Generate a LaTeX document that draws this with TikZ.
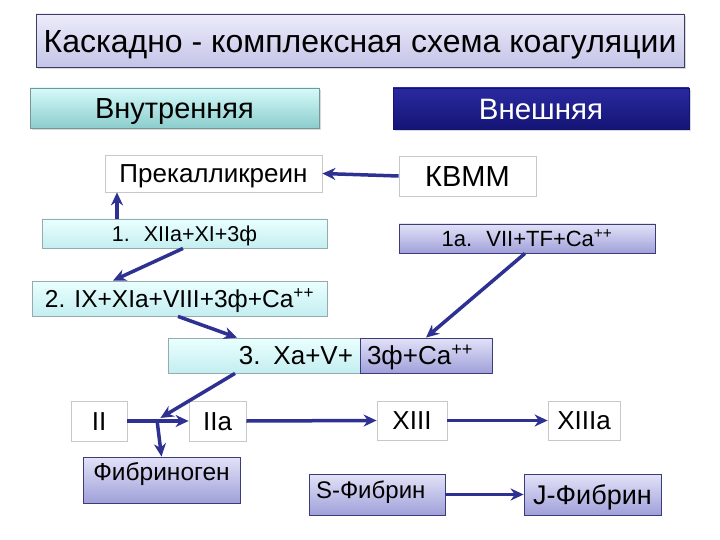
\documentclass[tikz,border=0pt]{standalone}
\usepackage{fontspec}
\setmainfont{Liberation Sans}
\usetikzlibrary{arrows.meta,shadows}
\definecolor{titletop}{RGB}{236,236,250}
\definecolor{titlebot}{RGB}{196,196,232}
\definecolor{titleedge}{RGB}{60,60,100}
\definecolor{intop}{RGB}{214,250,250}
\definecolor{inbot}{RGB}{140,205,205}
\definecolor{inedge}{RGB}{120,150,150}
\definecolor{extop}{RGB}{42,42,160}
\definecolor{exbot}{RGB}{20,20,118}
\definecolor{cyantop}{RGB}{234,255,255}
\definecolor{cyanbot}{RGB}{196,238,240}
\definecolor{cyanedge}{RGB}{150,170,175}
\definecolor{lavtop}{RGB}{226,226,248}
\definecolor{lavbot}{RGB}{160,160,218}
\definecolor{lavedge}{RGB}{60,60,120}
\definecolor{boxgray}{RGB}{200,200,200}
\definecolor{navy}{RGB}{46,49,146}
\newcommand{\fsz}[1]{\fontsize{#1}{#1}\selectfont}
\tikzset{
  plate/.style={inner sep=0pt, font=\fsz{#1}, text height=0.72*#1pt, text depth=0pt},
  wbox/.style={plate=#1, draw=boxgray, line width=0.8pt, fill=white},
  cbox/.style={plate=#1, draw=cyanedge, line width=0.8pt, top color=cyantop, bottom color=cyanbot},
  lbox/.style={plate=#1, draw=lavedge, line width=0.8pt, top color=lavtop, bottom color=lavbot},
  soft/.style={drop shadow={opacity=0.3, shadow xshift=2pt, shadow yshift=-2pt}},
  flow/.style={draw=navy, line width=3.5pt, -{Stealth[length=13pt,width=12pt]}},
}
\begin{document}
\begin{tikzpicture}[x=1pt, y=-1pt]
\useasboundingbox[fill=white] (0,0) rectangle (720,540);

\node[plate=32, soft, draw=titleedge, top color=titletop, bottom color=titlebot, minimum width=648pt, minimum height=53pt] (title) at (36 + 648/2, 14 + 53/2) {Каскадно - комплексная схема коагуляции};

\node[plate=29, soft, draw=inedge, top color=intop, bottom color=inbot, minimum width=289pt, minimum height=40pt] (inner) at (30 + 289/2, 88 + 40/2) {Внутренняя};
\node[plate=29.5, soft, draw=exbot, top color=extop, bottom color=exbot, text=white, minimum width=296pt, minimum height=41pt] (outer) at (393 + 296/2, 88 + 41/2) {Внешняя};

\node[wbox=26, minimum width=217pt, minimum height=37pt] (prek) at (105 + 217/2, 155 + 37/2) {Прекалликреин};
\node[wbox=29, minimum width=137pt, minimum height=40pt] (kvmm) at (399 + 137/2, 156 + 40/2) {КВММ};

\node[cbox=21.5, minimum width=285pt, minimum height=29pt] (k1) at (42 + 285/2, 219 + 29/2) {1.~ XIIa+XI+3ф};
\node[lbox=22, minimum width=256pt, minimum height=29pt] (k1a) at (399 + 256/2, 224 + 29/2) {1a.~ VII+TF+Ca\textsuperscript{++}};

\node[cbox=24.5, minimum width=295pt, minimum height=35pt] (k2) at (32 + 295/2, 281 + 35/2) {2. IX+XIa+VIII+3ф+Ca\textsuperscript{++}};

\node[cbox=26, inner xsep=7pt, text width=178pt, align=right, minimum width=192pt, minimum height=35pt] (k3) at (168 + 192/2, 338 + 35/2) {3. Xa+V+};
\node[lbox=26, inner xsep=7pt, text width=118pt, align=left, minimum width=132pt, minimum height=35pt] (k3ca) at (360 + 132/2, 338 + 35/2) {3ф+Ca\textsuperscript{++}};

\node[wbox=26, minimum width=56pt, minimum height=40pt] (f2) at (71 + 56/2, 401 + 40/2) {II};
\node[wbox=26, minimum width=57pt, minimum height=40pt] (f2a) at (189 + 57/2, 401 + 40/2) {IIa};
\node[wbox=26, minimum width=70pt, minimum height=39pt] (f13) at (377 + 70/2, 401 + 39/2) {XIII};
\node[wbox=26, minimum width=72pt, minimum height=39pt] (f13a) at (548 + 72/2, 401 + 39/2) {XIIIa};

\node[lbox=24.5, text height=23pt, text depth=23pt, minimum width=157pt] (fib) at (83 + 157/2, 457 + 46/2) {Фибриноген};
\node[lbox=24, text height=24pt, text depth=17pt, inner xsep=7pt, text width=122pt, align=left, minimum width=136pt] (sfib) at (309 + 136/2, 474 + 41/2) {S-Фибрин};
\node[lbox=27, minimum width=137pt, minimum height=41pt] (jfib) at (524 + 137/2, 474 + 41/2) {J-Фибрин};

\coordinate (jn) at (157, 420);

\draw[flow] (kvmm.west) -- (prek.east);
\draw[flow] ([xshift=-67.5pt]k1.north) -- ([xshift=-96.5pt]prek.south);
\draw[flow] ([xshift=-1.5pt]k1.south) -- ([xshift=-66.5pt]k2.north);
\draw[flow] ([xshift=-2pt]k1a.south) -- (k3ca.north);
\draw[flow] ([xshift=-1.5pt]k2.south) -- ([xshift=-27pt]k3.north);
\draw[flow, shorten >=4pt] ([xshift=-29pt]k3.south) -- (jn);
\draw[flow] (f2.east) -- (f2a.west);
\draw[flow] (jn) -- (fib.north);
\draw[flow] (f2a.east) -- (f13.west);
\draw[flow] (f13.east) -- (f13a.west);
\draw[flow] (sfib.east) -- (jfib.west);

\end{tikzpicture}
\end{document}
